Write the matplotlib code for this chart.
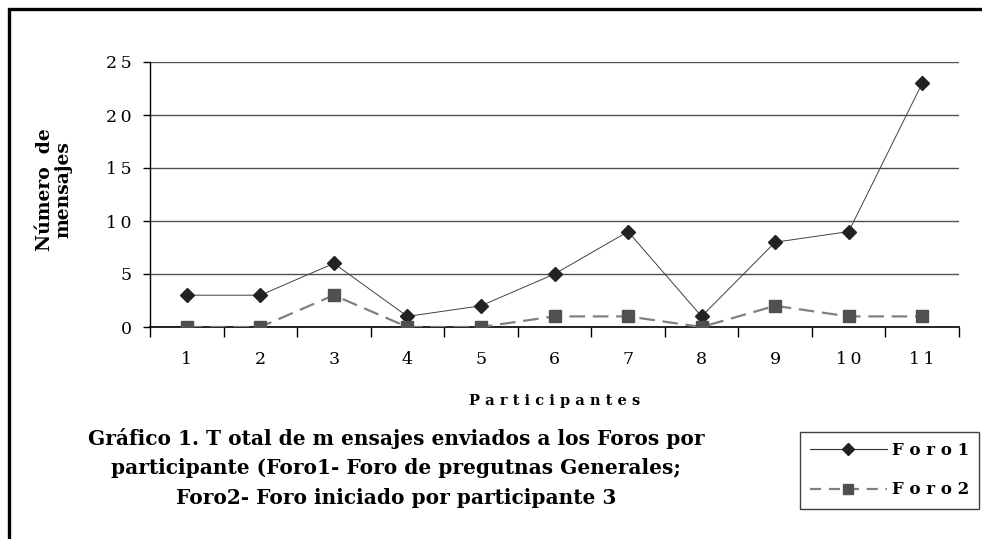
import numpy as np, matplotlib.pyplot as plt
from matplotlib.lines import Line2D
from matplotlib.patches import Rectangle

participantes = list(range(1, 12))
foro1 = [3, 3, 6, 1, 2, 5, 9, 1, 8, 9, 23]
foro2 = [0, 0, 3, 0, 0, 1, 1, 0, 2, 1, 1]
yticks = [0, 5, 10, 15, 20, 25]
ytick_labels = ["0", "5", "1\u20090", "1\u20095", "2\u20090", "2\u20095"]
xtick_labels = ["1", "2", "3", "4", "5", "6", "7", "8", "9", "1\u20090", "1\u20091"]

plt.rcParams['font.family'] = 'DejaVu Serif'
fig = plt.figure(figsize=(9.82, 5.39), dpi=100)
ax = fig.add_axes([150/982, 1-327/539, (959-150)/982, (327-62)/539])

ax.plot(participantes, foro1, color='#404040', lw=0.7, marker='D', ms=7,
        mfc='#222222', mec='#222222', label='F o r o 1', zorder=3)
ax.plot(participantes, foro2, color='#808080', lw=1.6, ls=(0, (7, 3.5)), marker='s', ms=8,
        mfc='#505050', mec='#505050', label='F o r o 2', zorder=3)

ax.set_xlim(0.5, 11.5)
ax.set_ylim(0, 25)
ax.set_yticks(yticks)
ax.set_yticklabels(ytick_labels, fontsize=12.5)
ax.set_xticks(participantes)
ax.set_xticklabels(xtick_labels, fontsize=12.5)
ax.set_xticks(np.arange(0.5, 12, 1), minor=True)
ax.tick_params(axis='x', which='major', length=0, pad=17)
ax.tick_params(axis='x', which='minor', length=7, width=1, direction='out')
ax.tick_params(axis='y', length=5, width=1, direction='out', pad=8)
for s in ['top', 'right']:
    ax.spines[s].set_visible(False)
ax.spines['left'].set_linewidth(1)
ax.spines['bottom'].set_linewidth(1.2)
ax.yaxis.grid(True, color='#505050', lw=1)
ax.set_axisbelow(True)

ax.set_xlabel("P a r t i c i p a n t e s", fontsize=10.5, fontweight='bold', labelpad=19)
fig.text(54/982, 1-190/539, "Número  de\nmensajes", rotation=90, fontsize=13.5,
         fontweight='bold', ha='center', va='center', multialignment='center', linespacing=1.0)

fig.text(396/982, 1-468/539,
         "Gráfico 1. T otal de m ensajes enviados a los Foros por\n"
         "participante (Foro1- Foro de pregutnas Generales;\n"
         "Foro2- Foro iniciado por participante 3",
         fontsize=14.5, fontweight='bold', ha='center', va='center',
         multialignment='center', linespacing=1.6)

handles = [Line2D([], [], color='#303030', lw=0.8, marker='D', ms=6, mfc='#222222', mec='#222222'),
           Line2D([], [], color='#808080', lw=1.6, ls=(0, (5, 3.5)), marker='s', ms=7,
                  mfc='#505050', mec='#505050')]
leg = fig.legend(handles, ['F o r o 1', 'F o r o 2'], loc='upper left',
                 bbox_to_anchor=(800/982, 1-432/539), fancybox=False, framealpha=1,
                 edgecolor='#404040', handlelength=4.6,
                 prop={'weight': 'bold', 'size': 12}, borderpad=0.6, labelspacing=1.35,
                 handletextpad=0.3, borderaxespad=0)
leg.get_frame().set_linewidth(1)

fig.patches.append(Rectangle((9/982, -0.1), 1.2, 1-9/539+0.1, transform=fig.transFigure,
                             fill=False, lw=2.4, ec='black'))

fig.savefig("out.png", dpi=100)
